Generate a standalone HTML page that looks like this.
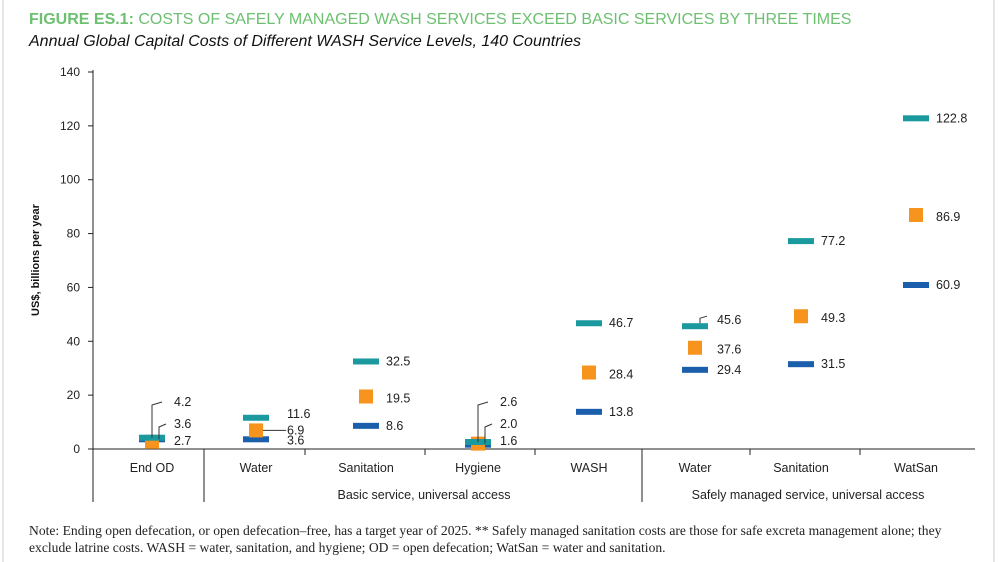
<!DOCTYPE html>
<html><head><meta charset="utf-8"><style>
body{margin:0;background:#fff;}
svg{display:block;font-family:"Liberation Sans",sans-serif;}
</style></head><body>
<svg width="1000" height="562" id="c">
<rect x="0" y="0" width="1000" height="562" fill="#fff"/>
<line x1="3" y1="0" x2="3" y2="562" stroke="#ccc"/>
<line x1="994" y1="0" x2="994" y2="562" stroke="#ccc"/>
<text x="29" y="24" font-size="16" fill="#6cc070"><tspan font-weight="bold">FIGURE ES.1:</tspan> COSTS OF SAFELY MANAGED WASH SERVICES EXCEED BASIC SERVICES BY THREE TIMES</text>
<text x="29" y="46" font-size="16" font-style="italic" fill="#111">Annual Global Capital Costs of Different WASH Service Levels, 140 Countries</text>
<text transform="translate(39,260) rotate(-90)" text-anchor="middle" font-size="11" font-weight="bold" fill="#111">US$, billions per year</text>
<g id="axes"></g><g id="marks"></g>
<text x="29" y="535" font-size="13.6" font-family="Liberation Serif,serif" fill="#222">Note: Ending open defecation, or open defecation–free, has a target year of 2025. ** Safely managed sanitation costs are those for safe excreta management alone; they</text>
<text x="29" y="552" font-size="13.6" font-family="Liberation Serif,serif" fill="#222">exclude latrine costs. WASH = water, sanitation, and hygiene; OD = open defecation; WatSan = water and sanitation.</text>
</svg>
<script>
const categories=["End OD","Water","Sanitation","Hygiene","WASH","Water","Sanitation","WatSan"];
const tealValues=[4.2,11.6,32.5,2.6,46.7,45.6,77.2,122.8];
const orangeValues=[2.7,6.9,19.5,2.0,28.4,37.6,49.3,86.9];
const blueValues=[3.6,3.6,8.6,1.6,13.8,29.4,31.5,60.9];
const yTicks=[0,20,40,60,80,100,120,140];
const groupLabels=["Basic service, universal access","Safely managed service, universal access"];
const NS="http://www.w3.org/2000/svg";
const centers=[152,256,366,478,589,695,801,916];
function y(v){return 449-v*(377/140);}
function mk(p,t,a){const e=document.createElementNS(NS,t);for(const k in a)e.setAttribute(k,a[k]);p.appendChild(e);return e;}
const ax=document.getElementById('axes'),mk2=document.getElementById('marks');
let l=mk(ax,'line',{x1:93,y1:70,x2:93,y2:502,stroke:'#222'});

l=mk(ax,'line',{x1:93,y1:449,x2:975,y2:449,stroke:'#222'});

yTicks.forEach(t=>{
 mk(ax,'line',{x1:88,y1:y(t),x2:93,y2:y(t),stroke:'#222'});
 const tx=mk(ax,'text',{x:80,y:y(t)+4,'text-anchor':'end','font-size':12,fill:'#222'});tx.textContent=t;
 
});
[305,425,535,750,860].forEach(x=>mk(ax,'line',{x1:x,y1:449,x2:x,y2:455,stroke:'#222'}));
[204,642].forEach(x=>{const d=mk(ax,'line',{x1:x,y1:449,x2:x,y2:502,stroke:'#222'});
 });
categories.forEach((c,i)=>{const t=mk(ax,'text',{x:centers[i],y:472,'text-anchor':'middle','font-size':12.5,fill:'#222'});t.textContent=c;
 });
[[424,groupLabels[0]],[808,groupLabels[1]]].forEach(g=>{const t=mk(ax,'text',{x:g[0],y:499,'text-anchor':'middle','font-size':12.5,fill:'#222'});t.textContent=g[1];
 });
function label(x,yy,v){const t=mk(mk2,'text',{x:x,y:yy+4,'font-size':12.5,fill:'#222'});t.textContent=v.toFixed(1);
 }
categories.forEach((c,i)=>{
 const cx=centers[i];
 let b=mk(mk2,'rect',{x:cx-13,y:y(blueValues[i])-3,width:26,height:6,fill:'#1b5eab'});
 
 let o=mk(mk2,'rect',{x:cx-7,y:y(orangeValues[i])-7,width:14,height:14,fill:'#f7941d'});
 
 let t=mk(mk2,'rect',{x:cx-13,y:y(tealValues[i])-3,width:26,height:6,fill:'#1a9a9e'});
 
 if(i===0||i===3){
  const vals=[tealValues[i],Math.max(blueValues[i],orangeValues[i]),Math.min(blueValues[i],orangeValues[i])];
  const ly=[402,424,441];
  mk(mk2,'polyline',{points:`${cx},${y(vals[0])} ${cx},${ly[0]+3} ${cx+10},${ly[0]}`,fill:'none',stroke:'#333'});
  mk(mk2,'polyline',{points:`${cx+7},${y(vals[1])} ${cx+7},${ly[1]+3} ${cx+14},${ly[1]}`,fill:'none',stroke:'#333'});
  vals.forEach((v,k)=>label(cx+22,ly[k],v));
 } else if(i===1){
  mk(mk2,'line',{x1:cx+7,y1:y(orangeValues[i]),x2:cx+30,y2:y(orangeValues[i]),stroke:'#333'});
  label(cx+31,y(tealValues[i])-4,tealValues[i]);label(cx+31,y(orangeValues[i]),orangeValues[i]);label(cx+31,y(blueValues[i])+1,blueValues[i]);
 } else if(i===5){
  mk(mk2,'polyline',{points:`${cx+5},${y(tealValues[i])-3} ${cx+5},${y(tealValues[i])-8} ${cx+12},${y(tealValues[i])-10}`,fill:'none',stroke:'#333'});
  label(cx+22,y(tealValues[i])-6,tealValues[i]);label(cx+22,y(orangeValues[i])+2,orangeValues[i]);label(cx+22,y(blueValues[i]),blueValues[i]);
 } else {
  label(cx+20,y(tealValues[i]),tealValues[i]);label(cx+20,y(orangeValues[i])+2,orangeValues[i]);label(cx+20,y(blueValues[i]),blueValues[i]);
 }
});
</script>
</body></html>
